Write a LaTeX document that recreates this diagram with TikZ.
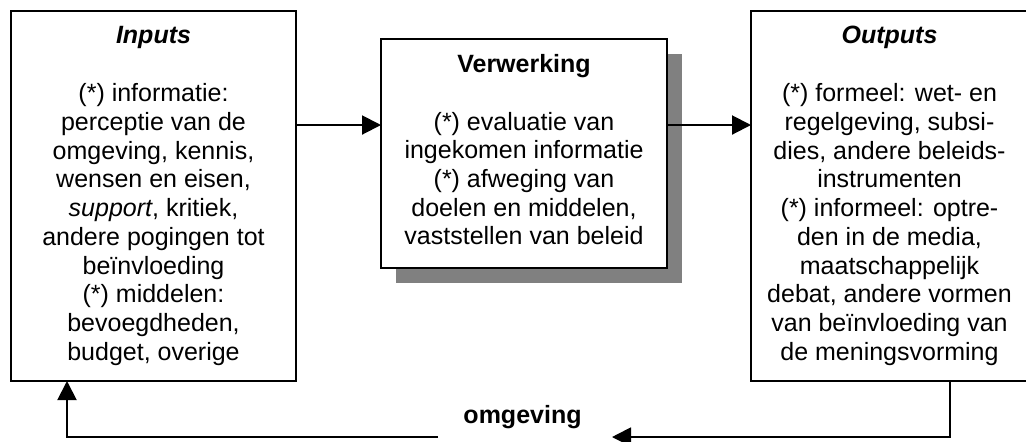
\documentclass[tikz,border=0pt]{standalone}
\usepackage{fontspec}
\setmainfont{Liberation Sans}
\usetikzlibrary{arrows.meta}
\begin{document}
\begin{tikzpicture}[x=0.5pt,y=-0.5pt,
  box/.style={draw, line width=1pt, fill=white, inner sep=0pt, outer sep=0pt},
  shadowbox/.style={fill=gray, draw=none, inner sep=0pt, outer sep=0pt},
  body/.style={align=center, font=\fontsize{12.5}{14.35}\selectfont, inner sep=0pt},
  heading/.style={font=\fontsize{12.5}{14.35}\selectfont\bfseries\itshape, inner sep=0pt, anchor=base},
  plainhead/.style={font=\fontsize{12.5}{14.35}\selectfont\bfseries, inner sep=0pt, anchor=base},
  arr/.style={line width=1pt, -{Triangle[length=9.5pt,width=9.5pt]}},
  link/.style={line width=1pt}]
\useasboundingbox (0,0) rectangle (1026,441);

% the three blocks
\node[box, minimum width=142.5pt, minimum height=185pt] (inbox) at (153.5,196) {};
\node[shadowbox, minimum width=143pt, minimum height=114.5pt] (midshadow) at (539,168.5) {};
\node[box, minimum width=143pt, minimum height=114.5pt] (midbox) at (524,153.5) {};
\node[box, minimum width=138.5pt, minimum height=185pt] (outbox) at (889.5,196) {};

% block texts
\node[heading] (intitle) at (153.5,43) {Inputs};
\node[body] (intext) at (153.5,224.5) {(*) informatie:\\ perceptie van de\\ omgeving, kennis,\\ wensen en eisen,\\ \textit{support}, kritiek,\\ andere pogingen tot\\ beïnvloeding\\ (*) middelen:\\ bevoegdheden,\\ budget, overige};

\node[plainhead] (midtitle) at (524,72) {Verwerking};
\node[body] (midtext) at (524,178.5) {(*) evaluatie van\\ ingekomen informatie\\ (*) afweging van\\ doelen en middelen,\\ vaststellen van beleid};

\node[heading] (outtitle) at (889.5,43) {Outputs};
\node[body] (outtext) at (889.5,224.5) {(*) formeel: wet- en\\ regelgeving, subsi-\\ dies, andere beleids-\\ instrumenten\\ (*) informeel: optre-\\ den in de media,\\ maatschappelijk\\ debat, andere vormen\\ van beïnvloeding van\\ de meningsvorming};

% feedback label
\node[plainhead] (env) at (522.5,423) {omgeving};

% forward arrows
\coordinate (flow) at (0,125);
\draw[arr] (inbox.east |- flow) -- (midbox.west |- flow);
\draw[arr] (midbox.east |- flow) -- (outbox.west |- flow);

% feedback loop through the environment
\coordinate (fbR) at (950,437);
\coordinate (fbL) at (67,437);
\coordinate (gapR) at (612,437);
\coordinate (gapL) at (438,437);
\draw[arr] (outbox.south -| fbR) -- (fbR) -- (gapR);
\draw[arr] (gapL) -- (fbL) -- (inbox.south -| fbL);
\end{tikzpicture}
\end{document}
